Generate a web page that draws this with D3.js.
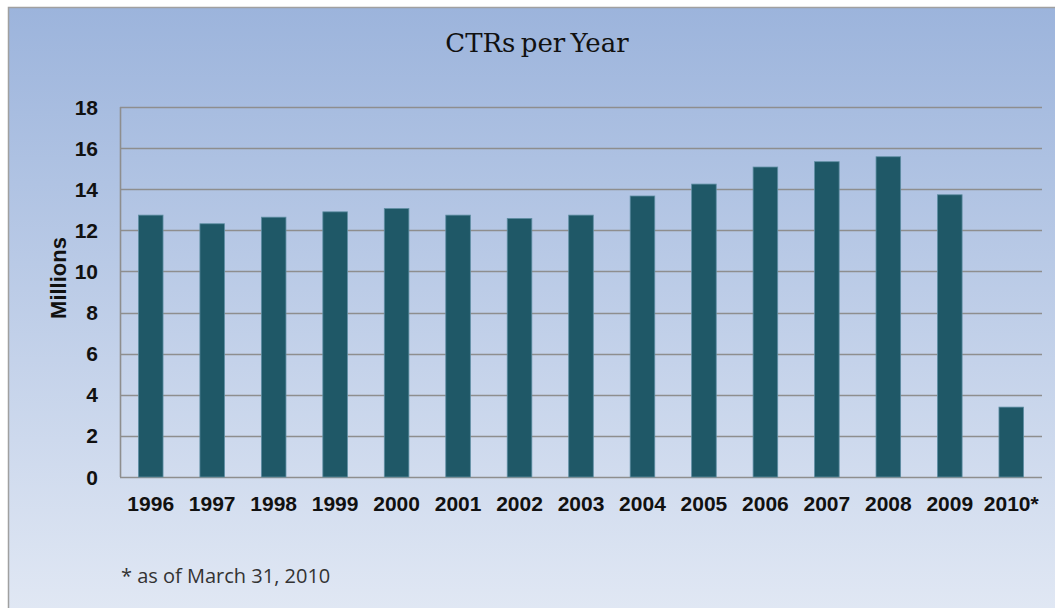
<!DOCTYPE html>
<html>
<head>
<meta charset="utf-8">
<script src="https://cdn.jsdelivr.net/npm/d3@7"></script>
<style>
  html, body { margin: 0; padding: 0; background: #fff; }
  svg { display: block; }
</style>
</head>
<body>
<div id="chart"></div>
<script>
const years = ["1996", "1997", "1998", "1999", "2000", "2001", "2002", "2003",
  "2004", "2005", "2006", "2007", "2008", "2009", "2010*"]
const ctrs = [12.74, 12.32, 12.64, 12.90, 13.06, 12.74, 12.58, 12.74,
  13.67, 14.25, 15.08, 15.34, 15.58, 13.73, 3.40]
const yTicks = [0, 2, 4, 6, 8, 10, 12, 14, 16, 18]

const width = 1055
const height = 608
const margin = { top: 107, right: 13, bottom: 131, left: 120 }

const svg = d3.select("#chart")
  .append("svg")
  .attr("width", width)
  .attr("height", height)

// background gradient panel
const defs = svg.append("defs")
const grad = defs.append("linearGradient")
  .attr("id", "bg")
  .attr("x1", 0).attr("y1", 0).attr("x2", 0).attr("y2", 1)
grad.append("stop").attr("offset", "0%").attr("stop-color", "#9cb4dc")
grad.append("stop").attr("offset", "100%").attr("stop-color", "#e1e8f4")

svg.append("rect")
  .attr("x", 8.5).attr("y", 7.5)
  .attr("width", width).attr("height", height)
  .attr("fill", "url(#bg)")
  .attr("stroke", "#a0a0a0")
  .attr("stroke-width", 1.5)

const x = d3.scaleBand()
  .domain(years)
  .range([margin.left, width - margin.right])
  .paddingInner(0.6)
  .paddingOuter(0.3)

const y = d3.scaleLinear()
  .domain([0, 18])
  .range([height - margin.bottom, margin.top])

// gridlines
svg.append("g")
  .selectAll("line")
  .data(yTicks)
  .join("line")
  .attr("x1", margin.left)
  .attr("x2", width - margin.right)
  .attr("y1", d => Math.round(y(d)) + 0.5)
  .attr("y2", d => Math.round(y(d)) + 0.5)
  .attr("stroke", "#8e8e8e")
  .attr("stroke-width", 1.6)

// left axis line
svg.append("line")
  .attr("x1", margin.left + 0.5).attr("x2", margin.left + 0.5)
  .attr("y1", y(18)).attr("y2", y(0))
  .attr("stroke", "#8e8e8e")
  .attr("stroke-width", 1.6)

// bars
svg.append("g")
  .selectAll("rect")
  .data(years)
  .join("rect")
  .attr("x", (d) => x(d))
  .attr("width", x.bandwidth())
  .attr("y", (d, i) => y(ctrs[i]))
  .attr("height", (d, i) => y(0) - y(ctrs[i]))
  .attr("fill", "#1f5867")
  .attr("stroke", "#5f8ea3")
  .attr("stroke-width", 0.8)

// y tick labels
svg.append("g")
  .selectAll("text")
  .data(yTicks)
  .join("text")
  .attr("x", 98)
  .attr("y", d => y(d))
  .attr("dy", "0.36em")
  .attr("text-anchor", "end")
  .style("font-family", "'Liberation Sans', Arial, sans-serif")
  .style("font-weight", "bold")
  .style("font-size", "21px")
  .style("fill", "#111")
  .text(d => d)

// x tick labels
svg.append("g")
  .selectAll("text")
  .data(years)
  .join("text")
  .attr("x", d => x(d) + x.bandwidth() / 2)
  .attr("y", 511)
  .attr("text-anchor", "middle")
  .style("font-family", "'Liberation Sans', Arial, sans-serif")
  .style("font-weight", "bold")
  .style("font-size", "21px")
  .style("fill", "#111")
  .text(d => d)

// y axis title
svg.append("text")
  .attr("transform", "translate(66,278) rotate(-90)")
  .attr("text-anchor", "middle")
  .style("font-family", "'Liberation Sans', Arial, sans-serif")
  .style("font-weight", "bold")
  .style("font-size", "22px")
  .style("fill", "#111")
  .text("Millions")

// title
svg.append("text")
  .attr("x", 537)
  .attr("y", 52)
  .attr("text-anchor", "middle")
  .style("font-family", "'DejaVu Serif', 'Liberation Serif', serif")
  .style("font-size", "26px")
  .style("word-spacing", "-3px")
  .style("fill", "#111")
  .text("CTRs per Year")

// footnote
svg.append("text")
  .attr("x", 121)
  .attr("y", 583)
  .style("font-family", "'Open Sans', sans-serif")
  .style("font-size", "20px")
  .style("fill", "#333")
  .text("* as of March 31, 2010")
</script>
</body>
</html>
